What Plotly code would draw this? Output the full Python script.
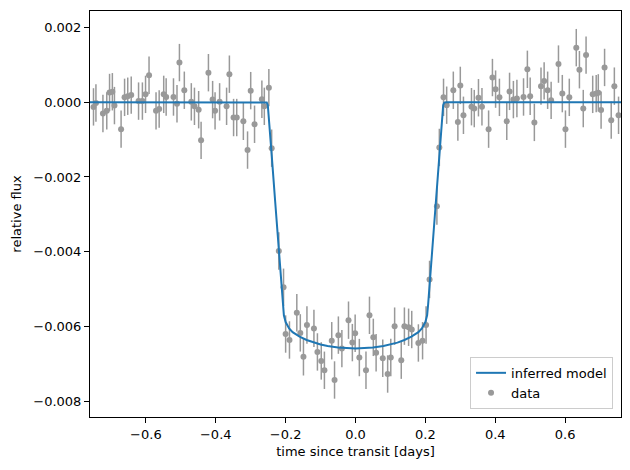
import plotly.graph_objects as go

# observed data (time since transit [days], relative flux)
t_data = [-0.750, -0.743, -0.723, -0.712, -0.704, -0.696, -0.690, -0.671, -0.661, -0.652,
          -0.642, -0.621, -0.610, -0.601, -0.591, -0.571, -0.562, -0.549, -0.542, -0.521,
          -0.511, -0.504, -0.490, -0.470, -0.461, -0.449, -0.442, -0.421, -0.409, -0.402,
          -0.389, -0.369, -0.361, -0.349, -0.340, -0.321, -0.309, -0.300, -0.289, -0.268,
          -0.261, -0.248, -0.240, -0.2195, -0.206, -0.200, -0.189, -0.168, -0.158, -0.149,
          -0.139, -0.119, -0.109, -0.098, -0.089, -0.068, -0.060, -0.049, -0.039, -0.020,
          -0.009, -0.001, 0.011, 0.030, 0.040, 0.051, 0.059, 0.078, 0.092, 0.101,
          0.112, 0.131, 0.140, 0.152, 0.161, 0.180, 0.192, 0.202, 0.212, 0.233,
          0.240, 0.252, 0.261, 0.280, 0.293, 0.300, 0.309, 0.332, 0.340, 0.352,
          0.362, 0.381, 0.392, 0.401, 0.412, 0.433, 0.441, 0.452, 0.462, 0.481,
          0.492, 0.500, 0.512, 0.531, 0.540, 0.550, 0.560, 0.581, 0.592, 0.601,
          0.612, 0.632, 0.641, 0.652, 0.660, 0.679, 0.689, 0.695, 0.703, 0.713,
          0.732, 0.741, 0.753]
f_data = [-0.000125, -0.00002, -0.0003, -0.00023, 0.00026, 0.00028, -0.00009, -0.00072, 0.00013, 0.00016,
          0.00019, 0.00003, 0.00003, 0.00021, 0.00072, -0.00023, -0.00018, 0.00021, 0.00014, 0.00014,
          -0.00004, 0.00106, 0.00032, 0.00001, -0.00011, -0.0002, -0.00102, 0.00079, 0.00007, -0.00023,
          0.00001, -0.00011, 0.00075, -0.00041, -0.00041, -0.00051, -0.00128, 0.00031, -0.00059, 0.00008,
          -0.00011, 0.00039, -0.00123, -0.00398, -0.00495, -0.0062, -0.00636, -0.00563, -0.00617, -0.00681,
          -0.00596, -0.00605, -0.00668, -0.00692, -0.00717, -0.00638, -0.00743, -0.00623, -0.00659, -0.00583,
          -0.00643, -0.00618, -0.00683, -0.00717, -0.0057, -0.00629, -0.0067, -0.00685, -0.00727, -0.00683,
          -0.00599, -0.0069, -0.00599, -0.00602, -0.00608, -0.00644, -0.00638, -0.00596, -0.00474, -0.00278,
          -0.00121, 0.00013, -0.00008, 0.00032, -0.00053, 0.00045, -0.00035, -0.00012, -0.00017, 0.00012,
          -0.00012, -0.00072, 0.00066, 0.00035, 0.00013, -0.00051, 0.00029, 0.00007, 0.0001, 0.00014,
          0.00088, 0.00016, -0.00054, 0.00043, 0.00057, 0.00032, 0.00005, 0.00102, 0.00023, -0.00072,
          0.00013, 0.00146, 0.00087, -0.00017, 0.00126, 0.00021, 0.00023, 0.00025, -0.00021, 0.00093,
          -0.00048, 0.00043, -0.00035]
f_err = 0.0005

# inferred model curve
t_model = [-0.76, -0.26, -0.254, -0.251, -0.248, -0.24, -0.23, -0.22, -0.212, -0.208,
           -0.205, -0.20, -0.19, -0.18, -0.16, -0.14, -0.12, -0.10, -0.08, -0.05, 0.0,
           0.05, 0.08, 0.10, 0.12, 0.14, 0.16, 0.18, 0.19, 0.20, 0.205,
           0.208, 0.212, 0.22, 0.23, 0.24, 0.248, 0.251, 0.254, 0.26, 0.76]
f_model = [0.0, 0.0, -0.00001, -0.00008, -0.0004, -0.0014, -0.00265, -0.0039, -0.0049, -0.0054,
           -0.0057, -0.00588, -0.00605, -0.00615, -0.00627, -0.00636, -0.00643, -0.00648, -0.00652, -0.00656, -0.00659,
           -0.00656, -0.00652, -0.00648, -0.00643, -0.00636, -0.00627, -0.00615, -0.00605, -0.00588, -0.0057,
           -0.0054, -0.0049, -0.0039, -0.00265, -0.0014, -0.0004, -0.00008, -0.00001, 0.0, 0.0]

fig = go.Figure()
fig.add_trace(go.Scatter(
    x=t_data, y=f_data, mode="markers", name="data",
    marker=dict(color="#999999", size=6),
    error_y=dict(type="constant", value=f_err, color="#999999", thickness=1.5, width=0),
    legendrank=2,
))
fig.add_trace(go.Scatter(
    x=t_model, y=f_model, mode="lines", name="inferred model",
    line=dict(color="#1f77b4", width=2),
    legendrank=1,
))

axis_common = dict(
    showline=True, linecolor="black", linewidth=1, mirror=True,
    ticks="outside", ticklen=5, tickcolor="black", tickwidth=1,
    showgrid=False, zeroline=False,
    tickfont=dict(family="DejaVu Sans", size=13, color="black"),
)
fig.update_xaxes(**axis_common, range=[-0.76, 0.76], tickvals=[-0.6, -0.4, -0.2, 0.0, 0.2, 0.4, 0.6],
                 tickformat=".1f",
                 title=dict(text="time since transit [days]", font=dict(family="DejaVu Sans", size=13, color="black"), standoff=6))
fig.update_yaxes(**axis_common, range=[-0.00842, 0.00244],
                 tickvals=[-0.008, -0.006, -0.004, -0.002, 0.0, 0.002], tickformat=".3f",
                 title=dict(text="relative flux", font=dict(family="DejaVu Sans", size=13, color="black"), standoff=8))

fig.update_layout(
    width=630, height=470,
    margin=dict(l=90, r=9, t=11, b=53),
    plot_bgcolor="white", paper_bgcolor="white",
    font=dict(family="DejaVu Sans", size=13, color="black"),
    legend=dict(x=0.985, y=0.02, xanchor="right", yanchor="bottom",
                bgcolor="rgba(255,255,255,0.8)", bordercolor="#cccccc", borderwidth=1,
                font=dict(family="DejaVu Sans", size=13, color="black"),
                tracegroupgap=2),
    showlegend=True,
)

fig.write_html("out.html")
